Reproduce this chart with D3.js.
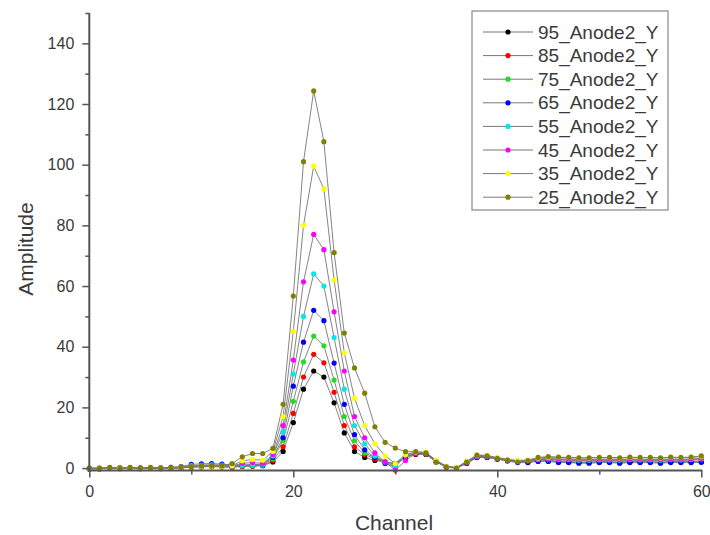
<!DOCTYPE html>
<html>
<head>
<meta charset="utf-8">
<script src="https://cdn.jsdelivr.net/npm/d3@7"></script>
<style>
  html, body { margin: 0; padding: 0; background: #fff; }
  svg { display: block; font-family: "Liberation Sans", Arial, sans-serif; }
</style>
</head>
<body>
<svg id="chart" width="710" height="535"></svg>
<script>
// Channel index 0..60
const channels = d3.range(0, 61);

const seriesNames = ["95_Anode2_Y", "85_Anode2_Y", "75_Anode2_Y", "65_Anode2_Y",
                     "55_Anode2_Y", "45_Anode2_Y", "35_Anode2_Y", "25_Anode2_Y"];
const seriesColors = ["#000000", "#ff0000", "#22dd22", "#0000ff",
                      "#00e8e8", "#ff00ff", "#ffff00", "#808000"];

// Amplitude per channel for each position
const y95 = [-0.3,-0.2,0,-0.1,0,-0.2,0,-0.1,0,0.1, 0.3,0.4,0.5,0.4,0.3,0.5,0.6,0.8,2.0,
             5.5,15,26,32,30,21.5,11.6,5.5,3.5,2.5,2,1.5,
             3.5,4.5,4.5,2,0.3,0,1.5,3.5,3.5,3,
             2.5,2,2,2.5,2.5,2,2,1.8,1.8,2,2,1.8,2,2,2,1.8,2,2,2,2];
const y85 = [-0.2,-0.3,0.1,-0.1,0,-0.1,0,-0.2,0.1,0, 0.3,0.5,0.5,0.4,0.4,0.6,0.7,0.9,2.5,
             7,18,30,37.5,34.7,25,14,7,4.5,3,2,1.5,
             3.8,4.6,4.6,2.2,0.3,0,1.6,3.6,3.6,3,
             2.5,2.1,2.2,2.6,2.7,2.2,2.2,2,2,2.2,2.1,2,2.2,2.2,2.1,2,2.2,2.1,2.2,2.3];
const y75 = [-0.2,-0.1,0,0.1,-0.1,0,0.1,-0.1,0,0.1, 0.4,0.6,0.6,0.5,0.4,0.7,0.8,1.0,3.0,
             9,22,35,43.5,40.3,29,17,9,5,3.5,2.2,1.2,
             4,4.8,4.7,2.2,0.4,0.1,1.8,3.8,3.8,3.2,
             2.6,2.2,2.3,2.8,3,2.6,2.6,2.4,2.4,2.5,2.5,2.4,2.6,2.5,2.5,2.4,2.6,2.5,2.6,2.8];
const y65 = [-0.3,-0.1,0,-0.2,0,0.1,-0.1,0,0.2,0.5, 1.2,1.4,1.5,1.3,1.0,1.0,1.2,1.2,3.5,
             10,27,41.5,52,48.6,34.6,21,11,6,3.5,1.5,0.5,
             4,4.8,4.8,2.3,0.4,0.1,1.8,3.6,3.6,3,
             2.3,1.8,1.8,2.2,2.2,1.8,1.8,1.6,1.6,1.8,1.8,1.6,1.8,1.8,1.8,1.6,1.8,1.8,1.8,1.9];
const y55 = [-0.2,0,0.1,-0.1,0,-0.1,0.1,0,0.2,0.3, 0.8,1.0,1.1,1.0,0.8,0.9,1.1,1.3,4,
             12,31,50,64,60,43,26,14,8,4,2,0.5,
             4.2,5,4.9,2.4,0.5,0.1,2,3.8,3.8,3.2,
             2.6,2.3,2.4,2.8,3,2.8,2.8,2.6,2.6,2.7,2.7,2.6,2.8,2.7,2.7,2.6,2.8,2.7,2.8,3];
const y45 = [-0.1,-0.2,0,0.1,-0.1,0,0,0.1,0,0.2, 0.5,0.7,0.8,0.7,0.6,1.6,1.8,1.6,4.5,
             14,35.6,61.4,77,72,51.5,32,17,10,5,2,-0.7,
             2.5,4.8,4.9,2.4,0.5,0.1,2,3.9,3.9,3.3,
             2.7,2.4,2.5,3,3.2,3,3,2.8,2.8,2.9,2.9,2.8,3,2.9,2.9,2.8,3,2.9,3,3.2];
const y35 = [0,-0.1,0.1,0,0.1,0,0.1,0,0.1,0.2, 0.4,0.6,0.7,0.6,0.8,2.4,2.8,2.6,5.5,
             17,45,80,99.5,92,62,38,23,14,8,4,1.5,
             4.5,5.3,5.2,2.6,0.6,0.2,2.3,4.3,4.2,3.5,
             2.9,2.5,2.7,3.3,3.6,3.5,3.4,3.3,3.3,3.4,3.4,3.3,3.5,3.4,3.4,3.3,3.5,3.4,3.5,3.8];
const y25 = [0.1,0,0.2,0.1,0.2,0.1,0.2,0.1,0.2,0.3, 0.5,0.7,0.8,0.8,1.5,3.7,4.8,4.8,6.5,
             21,56.7,101,124.3,107.6,71,44.5,33,24.7,13.6,8.5,6.6,
             5.4,5.4,5,2,0.4,0,2,4.3,4,3.2,
             2.6,2,2.5,3.5,3.8,3.6,3.5,3.4,3.4,3.5,3.5,3.4,3.6,3.5,3.5,3.4,3.6,3.5,3.6,4];

const seriesValues = [y95, y85, y75, y65, y55, y45, y35, y25];

const xTicks = [0, 20, 40, 60];
const yTicks = [0, 20, 40, 60, 80, 100, 120, 140];

const svg = d3.select("#chart");

const x = d3.scaleLinear().domain([0, 60]).range([89.3, 701.3]);
const y = d3.scaleLinear().domain([-0.8, 150]).range([470.5, 13]);

const axisColor = "#555";
const textColor = "#3a3a3a";

// Data series: grey connecting lines with coloured markers
const line = d3.line().x((d, i) => x(channels[i])).y(d => y(d));
const plot = svg.append("g");
seriesValues.forEach((vals, s) => {
  plot.append("path")
    .attr("d", line(vals))
    .attr("fill", "none")
    .attr("stroke", "#777")
    .attr("stroke-width", 1)
    .attr("stroke-opacity", 0.9);
});
seriesValues.forEach((vals, s) => {
  plot.append("g").selectAll("circle")
    .data(vals)
    .join("circle")
    .attr("cx", (d, i) => x(channels[i]))
    .attr("cy", d => y(d))
    .attr("r", 2.6)
    .attr("fill", seriesColors[s]);
});

// Axes
const xAxisY = 470.5;
const xAxis = svg.append("g").attr("transform", `translate(0,${xAxisY})`);
xAxis.call(d3.axisBottom(x).tickValues(xTicks).tickSize(7).tickPadding(8).tickFormat(d3.format("d")));
xAxis.append("g").call(d3.axisBottom(x).tickValues([10, 30, 50]).tickSize(4).tickFormat(""));
xAxis.selectAll(".domain").remove();
xAxis.append("line").attr("x1", x(0) - 1).attr("x2", x(60) + 1)
  .attr("stroke", axisColor).attr("stroke-width", 2);

const yAxisX = 89.3;
const yAxis = svg.append("g").attr("transform", `translate(${yAxisX},0)`);
yAxis.call(d3.axisLeft(y).tickValues(yTicks).tickSize(7).tickPadding(8).tickFormat(d3.format("d")));
yAxis.append("g").call(d3.axisLeft(y).tickValues([10, 30, 50, 70, 90, 110, 130, 150]).tickSize(4).tickFormat(""));
yAxis.selectAll(".domain").remove();
yAxis.append("line").attr("y1", y(150)).attr("y2", xAxisY + 1)
  .attr("stroke", axisColor).attr("stroke-width", 2);

svg.selectAll(".tick line").attr("stroke", axisColor).attr("stroke-width", 1.5);
svg.selectAll(".tick text").attr("fill", textColor).style("font-size", "16px")
  .style("font-family", "'Liberation Sans', Arial, sans-serif");

// Axis titles
svg.append("text")
  .attr("x", 394).attr("y", 530)
  .attr("text-anchor", "middle")
  .attr("fill", textColor)
  .style("font-size", "21px")
  .text("Channel");
svg.append("text")
  .attr("transform", "translate(33,249) rotate(-90)")
  .attr("text-anchor", "middle")
  .attr("fill", textColor)
  .style("font-size", "21px")
  .text("Amplitude");

// Legend
const legend = svg.append("g");
legend.append("rect")
  .attr("x", 472).attr("y", 11).attr("width", 196).attr("height", 199)
  .attr("fill", "#fff").attr("stroke", "#888").attr("stroke-width", 1.2);
seriesNames.forEach((name, i) => {
  const ly = 32 + i * 23.6;
  legend.append("line").attr("x1", 483).attr("x2", 533).attr("y1", ly).attr("y2", ly)
    .attr("stroke", "#777").attr("stroke-width", 1);
  legend.append("circle").attr("cx", 508).attr("cy", ly).attr("r", 2.6)
    .attr("fill", seriesColors[i]);
  legend.append("text").attr("x", 538).attr("y", ly + 6.5)
    .attr("fill", textColor).style("font-size", "19px").text(name);
});
</script>
</body>
</html>
